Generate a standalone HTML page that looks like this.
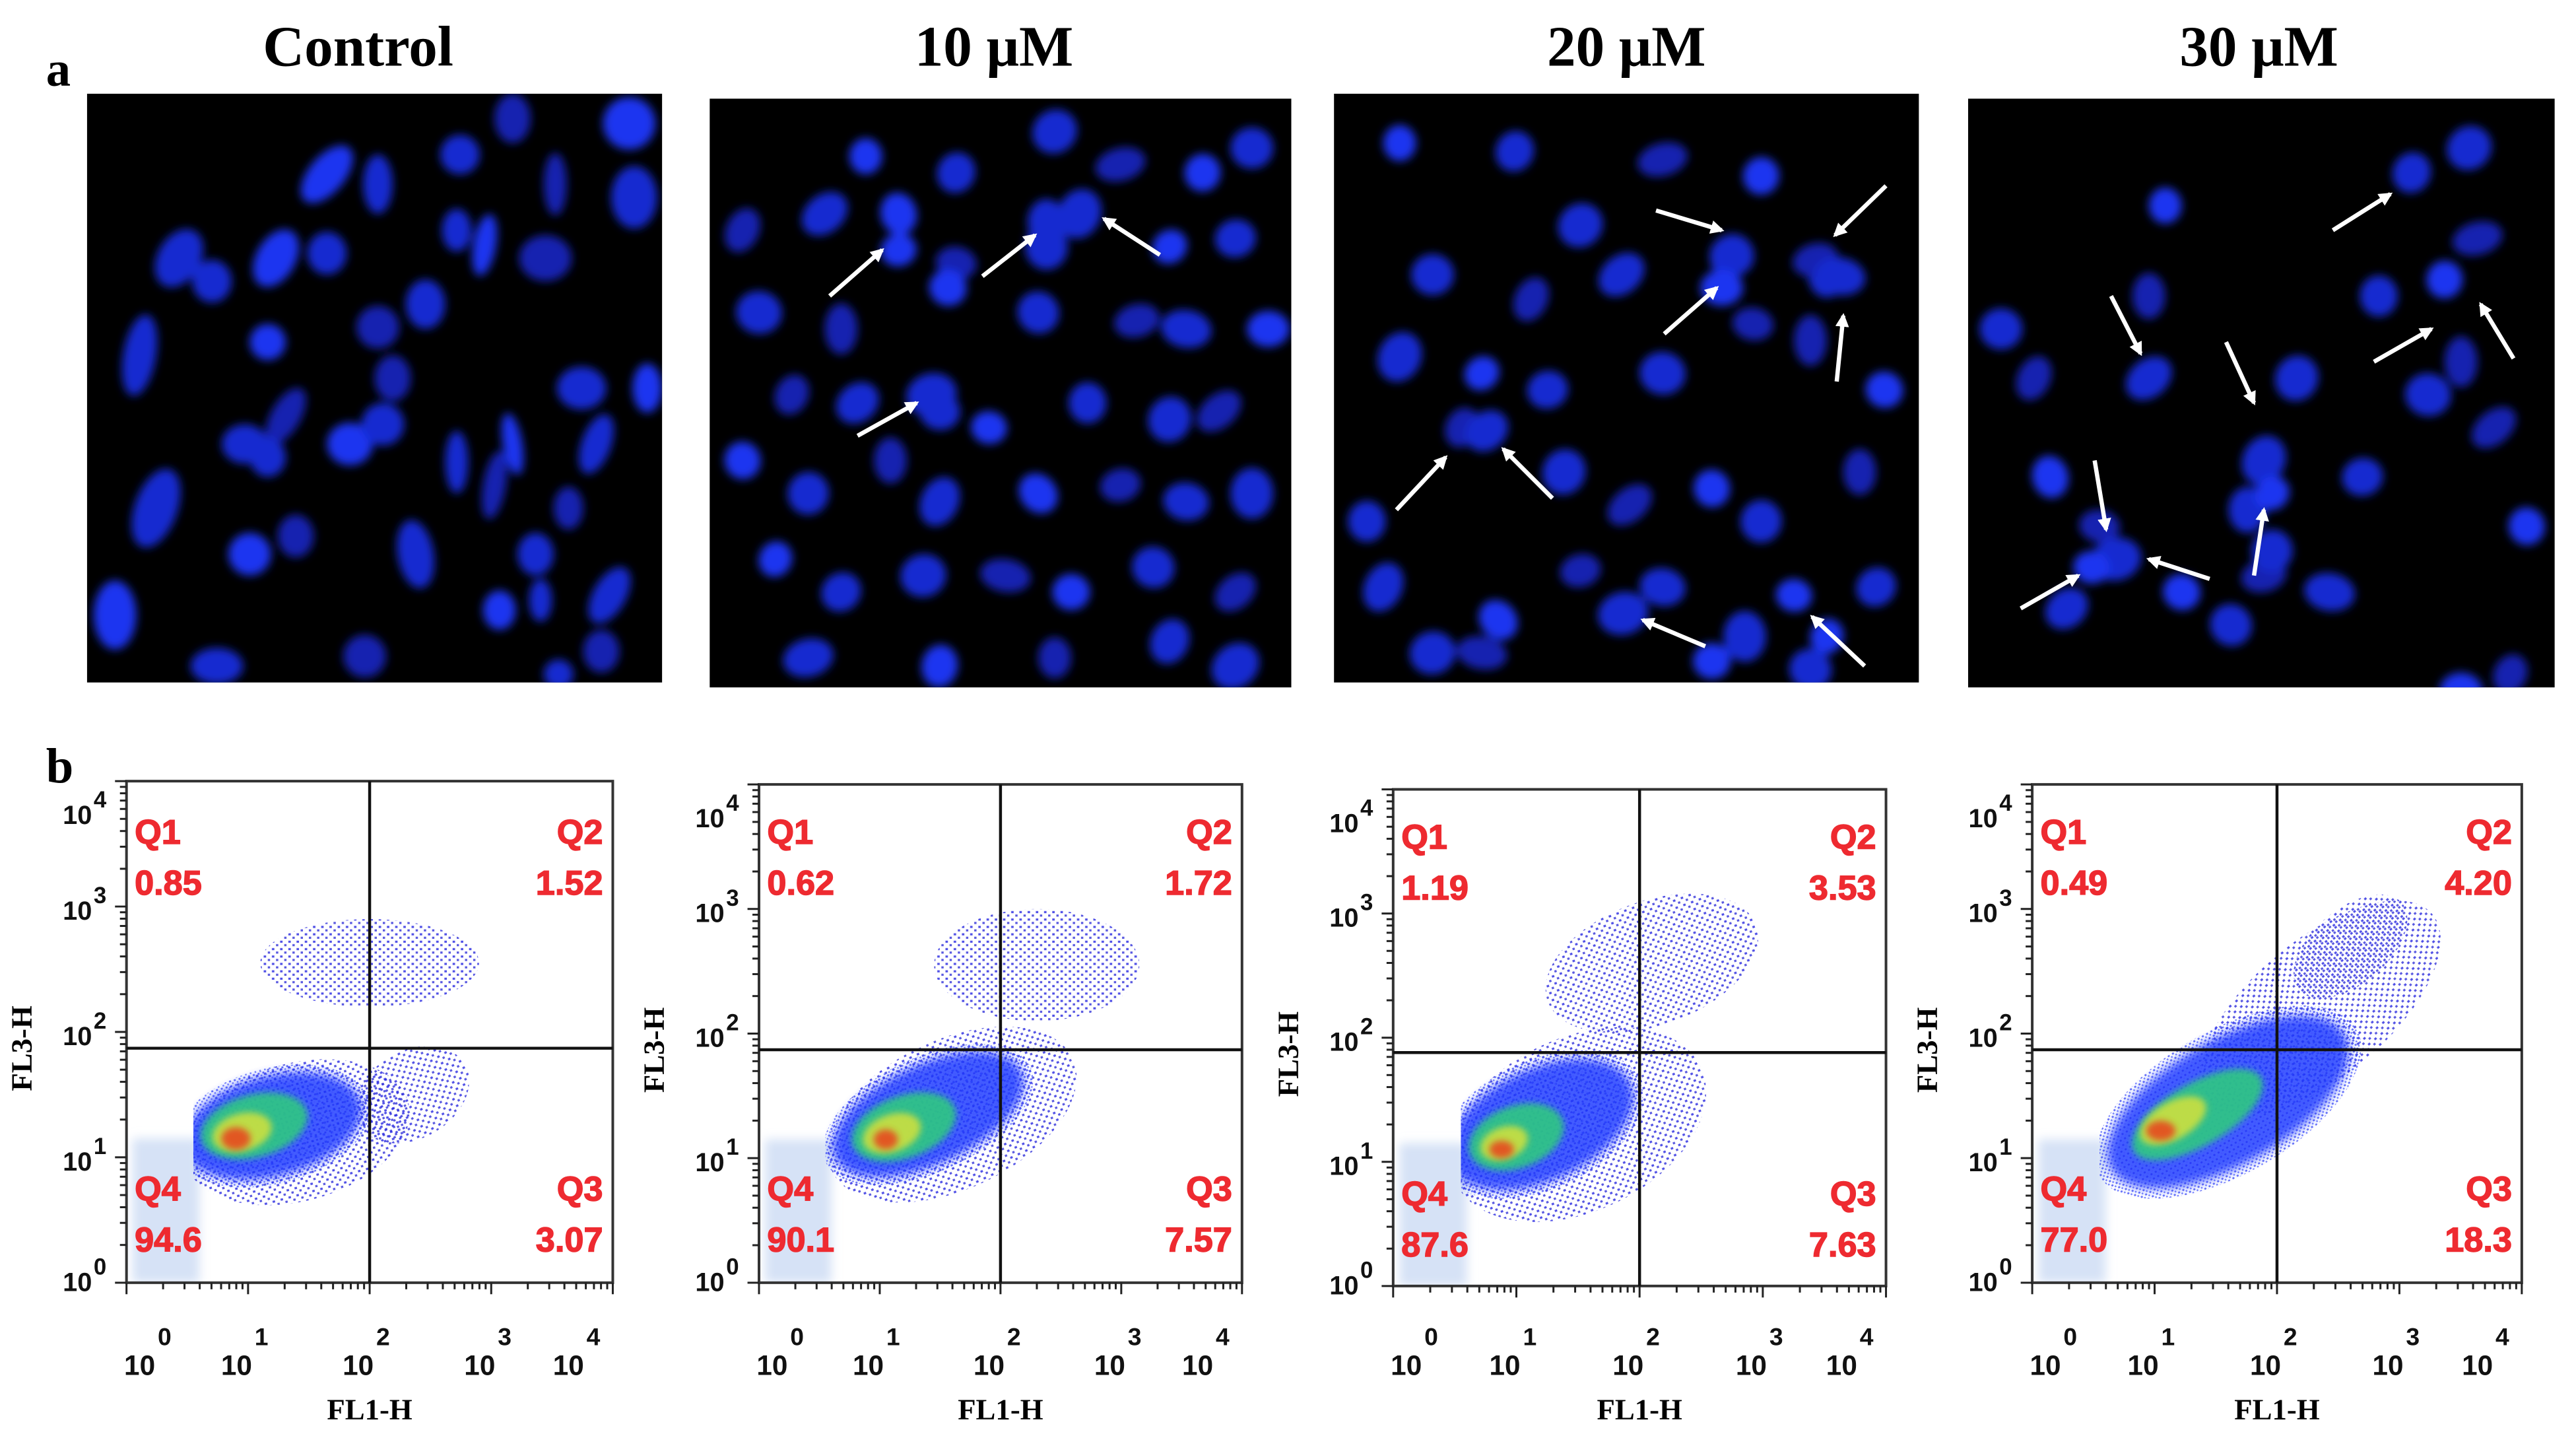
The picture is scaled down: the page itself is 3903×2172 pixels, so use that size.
<!DOCTYPE html>
<html><head><meta charset="utf-8">
<style>
html,body{margin:0;padding:0;background:#fff;}
svg{display:block;}
.ttl{font-family:"Liberation Serif",serif;font-weight:bold;}
.tk{font-family:"Liberation Sans",sans-serif;font-weight:bold;fill:#111;}
.qt{font-family:"Liberation Sans",sans-serif;font-weight:bold;fill:#ee2a30;stroke:#ee2a30;stroke-width:0.6;}
</style></head>
<body>
<svg id="fig" xmlns="http://www.w3.org/2000/svg" width="3903" height="2172" viewBox="0 0 1568 872" preserveAspectRatio="none">
<defs>
<filter id="nblur" x="-50%" y="-50%" width="200%" height="200%"><feGaussianBlur stdDeviation="2.8"/></filter>
<filter id="dblur" x="-50%" y="-50%" width="200%" height="200%"><feGaussianBlur stdDeviation="3"/></filter>
<filter id="sblur" x="-50%" y="-50%" width="200%" height="200%"><feGaussianBlur stdDeviation="2"/></filter>
<pattern id="dots" patternUnits="userSpaceOnUse" width="5" height="4.5">
<rect x="0.5" y="0.5" width="1.5" height="1.3" fill="#2424e0"/><rect x="3" y="2.6" width="1.4" height="1.3" fill="#3030d8"/>
</pattern>
<pattern id="dots2" patternUnits="userSpaceOnUse" width="3" height="3">
<rect x="0.3" y="0.3" width="1.2" height="1.1" fill="#1f2ff5"/><rect x="1.8" y="1.8" width="1" height="1" fill="#4050ff"/>
</pattern>
<marker id="ah" viewBox="0 0 10 10" refX="8" refY="5" markerWidth="3.2" markerHeight="3.2" orient="auto"><path d="M0,0 L10,5 L0,10 z" fill="#fff"/></marker>
</defs>
<text class="ttl" x="28" y="52" font-size="30">a</text>
<text class="ttl" x="28" y="476" font-size="30">b</text>
<text class="ttl" x="218" y="40" font-size="35" text-anchor="middle">Control</text>
<text class="ttl" x="605" y="40" font-size="35" text-anchor="middle">10 μM</text>
<text class="ttl" x="990" y="40" font-size="35" text-anchor="middle">20 μM</text>
<text class="ttl" x="1375" y="40" font-size="35" text-anchor="middle">30 μM</text>
<g id="micro"></g>
<g id="flow"></g>
</svg>
<script>
// ---------- Microscopy panels ----------
const imgBoxes=[[53,57,350,358],[432,60,354,358],[812,57,356,358],[1198,60,357,358]];
const nucControl=[[146,49,10,20,40],[177,55,8,17,0],[227,37,11,11,0],[259,15,10,14,0],[330,18,15,15,0],[333,63,13,18,0],[285,55,6,18,0],[225,83,8,12,0],[242,92,6,18,10],[279,100,15,13,0],[56,100,12,18,30],[76,114,11,12,0],[115,100,11,18,30],[146,97,11,12,0],[206,128,11,14,0],[177,142,12,12,0],[110,151,10,10,0],[32,159,9,24,10],[186,173,10,13,0],[301,179,14,12,0],[341,179,8,14,0],[121,196,8,18,30],[96,213,13,11,0],[110,221,10,11,0],[160,213,13,12,0],[180,201,12,12,0],[225,224,6,18,0],[248,238,6,20,10],[259,213,5,18,-10],[310,213,8,18,20],[293,252,8,12,0],[42,252,12,24,20],[99,280,12,12,0],[127,269,10,12,0],[200,280,10,20,-10],[273,280,10,12,0],[251,314,9,11,0],[276,308,6,12,0],[318,305,9,18,30],[313,339,10,12,0],[17,317,12,20,0],[79,348,15,10,0],[169,342,12,12,0],[287,353,8,8,0]];
const nuc10=[[95,35],[150,45],[210,20],[250,40],[300,45],[330,30],[20,80],[70,70],[115,70],[150,100],[205,75],[225,70],[280,90],[320,85],[30,130],[80,140],[145,115],[200,130],[260,135],[290,140],[340,140],[50,180],[90,185],[135,180],[170,200],[230,185],[280,195],[310,190],[20,220],[60,240],[110,220],[140,245],[200,240],[250,235],[290,245],[330,240],[40,280],[80,300],[130,290],[180,290],[220,300],[270,285],[320,300],[60,340],[140,345],[210,340],[280,330],[320,345],[115,92],[140,190],[205,90]];
const nuc20=[[40,30],[110,35],[150,80],[200,40],[260,50],[60,110],[120,125],[175,110],[240,100],[255,140],[300,110],[40,160],[90,170],[130,180],[200,170],[290,150],[335,180],[243,98],[293,101],[308,111],[236,118],[78,203],[93,205],[176,316],[280,305],[20,260],[140,230],[180,250],[230,240],[260,260],[320,230],[30,300],[100,320],[150,290],[200,300],[250,330],[300,330],[330,300],[60,340],[90,340],[230,345],[290,350]];
const nuc30=[[120,65],[270,45],[305,30],[310,85],[290,110],[20,140],[40,170],[110,170],[50,230],[80,260],[170,250],[180,220],[185,240],[240,230],[280,180],[300,160],[130,300],[160,320],[180,290],[220,300],[300,360],[330,350],[60,310],[90,280],[75,285],[250,120],[200,170],[320,200],[340,260],[185,275],[110,120]];
const arrows=[
 [[505,180,537,152],[598,168,630,143],[706,155,672,133],[522,265,558,245]],
 [[1008,128,1048,140],[1148,113,1117,143],[1013,203,1045,175],[1118,232,1122,192],[850,310,880,278],[945,303,915,273],[1038,393,1000,377],[1135,405,1103,375]],
 [[1420,140,1455,118],[1285,180,1303,215],[1355,208,1372,245],[1445,220,1480,200],[1530,218,1510,185],[1275,280,1282,322],[1230,370,1265,350],[1345,352,1308,340],[1372,350,1378,310]]
];
const NS='http://www.w3.org/2000/svg';
function mk(tag,attrs,parent){const e=document.createElementNS(NS,tag);for(const k in attrs)e.setAttribute(k,attrs[k]);parent.appendChild(e);return e;}
const micro=document.getElementById('micro');
const nucSets=[nucControl,nuc10,nuc20,nuc30];
const imgNames=['image-control','image-10um','image-20um','image-30um'];
imgBoxes.forEach((b,i)=>{
  const g=mk('g',{},micro);
  
  
  const cid='clipimg'+i;
  const cp=mk('clipPath',{id:cid},g);mk('rect',{x:b[0],y:b[1],width:b[2],height:b[3]},cp);
  mk('rect',{x:b[0],y:b[1],width:b[2],height:b[3],fill:'#000'},g);
  const ng=mk('g',{'clip-path':'url(#'+cid+')'},g);
  const ng2=mk('g',{filter:'url(#nblur)'},ng);
  nucSets[i].forEach((n,j)=>{
    let rx,ry,rot;
    if(n.length>2){rx=n[2]+1;ry=n[3]+1;rot=n[4];}else{rx=10+(j%3)*1.5;ry=11+(j%4)*1.5;rot=(j%5)*25;}
    const cx=b[0]+n[0],cy=b[1]+n[1];
    const col=(j%4===0)?'#1a34f0':(j%3===0?'#1224b0':'#162cd0');
    const e=mk('ellipse',{cx:cx,cy:cy,rx:rx,ry:ry,fill:col,transform:'rotate('+rot+' '+cx+' '+cy+')'},ng2);
    
    
  });
  if(i>0){arrows[i-1].forEach(a=>{
    const l=mk('line',{x1:a[0],y1:a[1],x2:a[2],y2:a[3],stroke:'#fff','stroke-width':2.6,'marker-end':'url(#ah)'},g);
    
    
  });}
});

// ---------- Flow cytometry plots ----------
const q1Vals=['0.85','0.62','1.19','0.49'];
const q2Vals=['1.52','1.72','3.53','4.20'];
const q3Vals=['3.07','7.57','7.63','18.3'];
const q4Vals=['94.6','90.1','87.6','77.0'];
const gateX=[2,2,2,2];
const gateY=[1.87,1.87,1.88,1.87];
const decades=[0,1,2,3,4];
// density blobs per plot: log-x center, log-y center, log width, log height, tilt, level
const blobX=[[2.0,2.35,1.4,1.2,1.05,0.95,0.9],[2.3,1.6,1.4,1.2,1.1,1.05],[2.1,1.5,1.2,1.0,0.9,0.88],[2.35,2.6,1.6,1.35,1.15,1.05]];
const blobY=[[2.55,1.5,1.2,1.25,1.25,1.2,1.15],[2.55,1.35,1.35,1.25,1.2,1.15],[2.6,1.3,1.3,1.2,1.15,1.1],[2.2,2.7,1.45,1.35,1.3,1.22]];
const blobW=[[0.9,0.5,0.95,0.75,0.45,0.25,0.12],[0.85,1.1,0.85,0.45,0.25,0.1],[0.9,1.1,0.8,0.4,0.2,0.1],[1.2,0.55,1.1,0.6,0.3,0.12]];
const blobH=[[0.35,0.35,0.55,0.4,0.25,0.15,0.09],[0.45,0.6,0.4,0.25,0.15,0.08],[0.5,0.7,0.45,0.25,0.13,0.07],[0.55,0.3,0.5,0.25,0.15,0.08]];
const blobA=[[0,-30,-15,-15,-15,-15,0],[0,-25,-25,-20,-20,0],[-20,-25,-25,-20,-20,0],[-40,-40,-30,-30,-30,0]];
const blobL=[[0,0,0,1,2,3,4],[0,0,1,2,3,4],[0,0,1,2,3,4],[0,0,1,2,3,4]];
const frames=[[77,475,373,780],[462,477,756,780],[848,480,1148,782],[1237,477,1535,780]];
const levelFill=['url(#dots)','#2440ff','#2fd07a','#d6e23a','#e8401c'];
const levelOp=[0.8,0.85,0.85,0.85,0.85];
const flow=document.getElementById('flow');
frames.forEach((f,p)=>{
  const [x0,y0,x1,y1]=f;
  const xs=l=>x0+(x1-x0)*l/4;
  const ys=l=>y1-(y1-y0)*l/4;
  const g=mk('g',{},flow);
  
  
  const cid='clipf'+p;
  const cp=mk('clipPath',{id:cid},g);mk('rect',{x:xs(0.55),y:y0,width:x1-xs(0.55),height:y1-y0},cp);
  const cpa='clipall'+p;
  const cp2=mk('clipPath',{id:cpa},g);mk('rect',{x:x0,y:y0,width:x1-x0,height:y1-y0},cp2);
  const gr=mk('rect',{x:xs(0.05),y:ys(1.15),width:xs(0.6)-xs(0.05),height:ys(0)-ys(1.15),fill:'#d6e2f6',filter:'url(#dblur)','clip-path':'url(#'+cpa+')'},g);
  
  
  const bg=mk('g',{'clip-path':'url(#'+cid+')'},g);
  blobX[p].forEach((bx,k)=>{
    const cx=xs(bx),cy=ys(blobY[p][k]);
    const rx=blobW[p][k]*(x1-x0)/4, ry=blobH[p][k]*(y1-y0)/4;
    const L=blobL[p][k];
    const e=mk('ellipse',{cx:cx,cy:cy,rx:rx,ry:ry,fill:levelFill[L],opacity:levelOp[L],transform:'rotate('+blobA[p][k]+' '+cx+' '+cy+')'},bg);
    if(L>0)e.setAttribute('filter',L===1?'url(#dblur)':'url(#sblur)');
    
    
    if(L===1){
      const t=mk('ellipse',{cx:cx,cy:cy,rx:rx*1.1,ry:ry*1.15,fill:'url(#dots2)',opacity:0.7,transform:'rotate('+blobA[p][k]+' '+cx+' '+cy+')'},bg);
      
      
    }
  });
  const fr=mk('rect',{x:x0,y:y0,width:x1-x0,height:y1-y0,fill:'none',stroke:'#333','stroke-width':1.6},g);
  
  
  const vx=xs(gateX[p]),hy=ys(gateY[p]);
  const vl=mk('line',{x1:vx,y1:y0,x2:vx,y2:y1,stroke:'#111','stroke-width':1.8},g);
  
  
  const hl=mk('line',{x1:x0,y1:hy,x2:x1,y2:hy,stroke:'#111','stroke-width':1.8},g);
  
  
  for(let d=0;d<4;d++){for(let m=1;m<=9;m++){
    const l=d+Math.log10(m);
    const len=m===1?7:4;
    mk('line',{x1:xs(l),y1:y1,x2:xs(l),y2:y1+len,stroke:'#222','stroke-width':1.2},g);
    mk('line',{x1:x0,y1:ys(l),x2:x0-len,y2:ys(l),stroke:'#222','stroke-width':1.2},g);
  }}
  mk('line',{x1:xs(4),y1:y1,x2:xs(4),y2:y1+7,stroke:'#222','stroke-width':1.2},g);
  mk('line',{x1:x0,y1:ys(4),x2:x0-7,y2:ys(4),stroke:'#222','stroke-width':1.2},g);
  decades.forEach(d=>{
    let lx=xs(d); if(d===0)lx+=15; if(d===4)lx-=20;
    const t=mk('text',{x:lx-7,y:836,'font-size':17,class:'tk','text-anchor':'middle'},g);
    t.textContent='10';
    
    
    const s=mk('text',{x:lx+4,y:818,'font-size':15,class:'tk'},g);s.textContent=String(d);
    let ly=ys(d)+8; if(d===4)ly+=18; if(d===0)ly-=3;
    const u=mk('text',{x:x0-21,y:ly,'font-size':16,class:'tk','text-anchor':'end'},g);
    u.textContent='10';
    
    
    const v=mk('text',{x:x0-20,y:ly-10,'font-size':14,class:'tk'},g);v.textContent=String(d);
  });
  const xt=mk('text',{x:(x0+x1)/2,y:863,'font-size':18,class:'ttl','text-anchor':'middle'},g);
  xt.textContent='FL1-H';
  
  
  const ytx=x0-58, yty=(y0+y1)/2+10;
  const yt=mk('text',{x:ytx,y:yty,'font-size':18,class:'ttl','text-anchor':'middle',transform:'rotate(-90 '+ytx+' '+yty+')'},g);
  yt.textContent='FL3-H';
  
  
  const qs=[['Q1',q1Vals[p],x0+5,'start',513],['Q2',q2Vals[p],x1-6,'end',513],['Q4',q4Vals[p],x0+5,'start',730],['Q3',q3Vals[p],x1-6,'end',730]];
  const off=p===2?3:0;
  qs.forEach(q=>{
    const a=mk('text',{x:q[2],y:q[4]+off,'font-size':21,class:'qt','text-anchor':q[3]},g);
    a.textContent=q[0];
    
    
    const b=mk('text',{x:q[2],y:q[4]+31+off,'font-size':21,class:'qt','text-anchor':q[3]},g);
    b.textContent=q[1];
    
    
  });
});
</script>
</body></html>
